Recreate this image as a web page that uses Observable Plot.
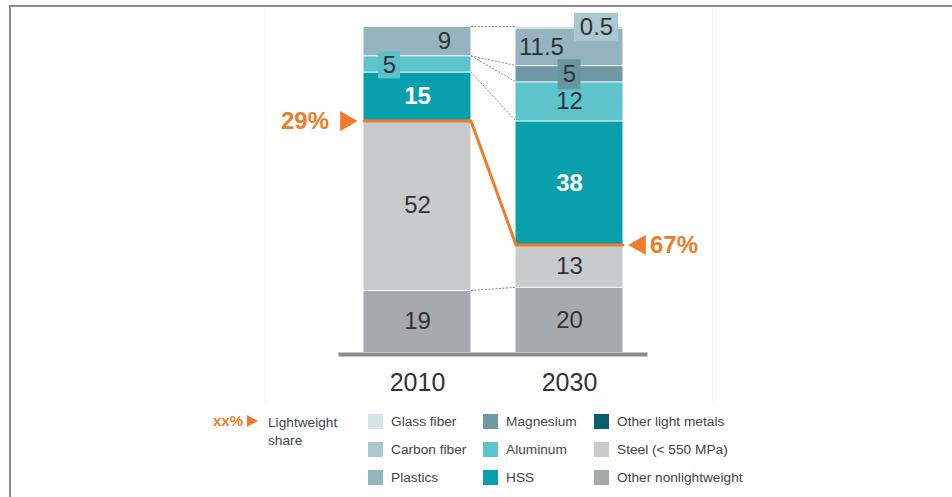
<!DOCTYPE html>
<html><head><meta charset="utf-8">
<script src="https://cdn.jsdelivr.net/npm/d3@7"></script>
<script src="https://cdn.jsdelivr.net/npm/@observablehq/plot@0.6"></script>
<style>
body{margin:0;background:#fff;font-family:"Liberation Sans",Arial,sans-serif;}
#frame{position:relative;width:952px;height:497px;overflow:hidden;background:#fff;}
#border{position:absolute;left:9px;top:5px;width:960px;height:500px;border-top:2px solid #8c8c8c;border-left:2px solid #8c8c8c;box-sizing:border-box;}
#panel{position:absolute;left:264px;top:8px;width:447px;height:394px;border-left:1px solid #f5f5f5;border-right:1px solid #f3f3f3;}
#chart{position:absolute;left:0;top:0;}
.lg{position:absolute;font-size:13.7px;color:#444;line-height:16px;white-space:nowrap;}
.sw{position:absolute;width:15px;height:15px;}
</style></head><body>
<div id="frame"><div id="panel"></div><div id="chart"></div><div id="legend"></div><div id="border"></div></div>
<script>
// ---- data ----
const years = ["2010", "2030"];
const categories = ["Other nonlightweight", "Steel (< 550 MPa)", "HSS", "Aluminum", "Magnesium", "Plastics", "Carbon fiber", "Glass fiber", "Other light metals"];
const isLightweight = [false, false, true, true, true, true, true, true, true];
const values2010 = [19, 52, 15, 5, 0, 9, 0, 0, 0];
const values2030 = [20, 13, 38, 12, 5, 11.5, 0.5, 0, 0];
const colors = ["#a8a9ac", "#c9cacc", "#08a0ac", "#5ec4cb", "#6e99a5", "#94b5c0", "#a9c8cf", "#d3e5e7", "#0b5e6d"];
const legendOrder = ["Glass fiber", "Carbon fiber", "Plastics", "Magnesium", "Aluminum", "HSS", "Other light metals", "Steel (< 550 MPa)", "Other nonlightweight"];

// ---- layout ----
const W = 952, H = 400, mt = 26, mb = 48, ml = 417, mr = 383;
const xPx = (W - ml - mr), yPx = (H - mt - mb) / 100;
const hw = 53.5 / xPx;             // half bar width in x units
const orange = "#f07c2a";
const labelLayout = {
  "2010|Plastics": {dx: 27},
  "2010|Aluminum": {dx: -28, dy: 1.5, box: [22, 27], boxFill: "#5bc0c8"},
  "2030|Plastics": {dx: -28},
  "2030|Carbon fiber": {dx: 27, box: [44, 28], boxFill: "#a9c8cf"},
  "2030|Magnesium": {dy: 1, box: [23, 30], boxFill: "#6995a1"}
};

const series = [values2010, values2030];
const segs = [];
const tops = [];
series.forEach((vals, i) => {
  let c = 0; const t = {};
  vals.forEach((v, k) => {
    const y1 = c; c += v; t[categories[k]] = c;
    if (v > 0) segs.push({year: years[i], xi: i, cat: categories[k], v, y1, y2: c, color: colors[k], light: isLightweight[k]});
  });
  tops.push(t);
});
const shares = series.map(vals => d3.sum(vals.filter((v, k) => isLightweight[k])));
const bounds = shares.map(s => 100 - s);

const labels = segs.map(s => {
  const L = labelLayout[s.year + "|" + s.cat] || {};
  return {...s, x: s.xi + (L.dx || 0) / xPx, y: (s.y1 + s.y2) / 2 - (L.dy || 0) / yPx, L};
});
const boxes = labels.filter(d => d.L.box).map(d => ({
  x1: d.x - d.L.box[0] / 2 / xPx, x2: d.x + d.L.box[0] / 2 / xPx,
  y1: d.y - d.L.box[1] / 2 / yPx, y2: d.y + d.L.box[1] / 2 / yPx, fill: d.L.boxFill
}));

const connectCats = ["Other nonlightweight", "HSS", "Aluminum", "Magnesium", "Carbon fiber"];
const links = connectCats.map(c => ({y1: tops[0][c], y2: tops[1][c]}));
const orangePts = [
  {x: -hw, y: bounds[0]}, {x: hw, y: bounds[0]},
  {x: 1 - hw, y: bounds[1]}, {x: 1 + hw, y: bounds[1]}
];

const plot = Plot.plot({
  width: W, height: H, marginTop: mt, marginBottom: mb, marginLeft: ml, marginRight: mr,
  x: {domain: [0, 1]}, y: {domain: [0, 100], axis: null},
  style: {fontFamily: "'Liberation Sans', Arial, sans-serif", background: "transparent", overflow: "visible"},
  marks: [
    Plot.link(links, {x1: hw, x2: 1 - hw, y1: "y1", y2: "y2", stroke: "#8a8a8a", strokeWidth: 1, strokeDasharray: "2,1.5"}),
    Plot.rect(segs, {x1: d => d.xi - hw, x2: d => d.xi + hw, y1: "y1", y2: "y2", fill: "color", insetTop: 1}),
    Plot.rect(boxes, {x1: "x1", x2: "x2", y1: "y1", y2: "y2", fill: "fill"}),
    Plot.text(labels.filter(d => d.cat !== "HSS"), {x: "x", y: "y", text: d => String(d.v), fill: "#333", fontSize: 24}),
    Plot.text(labels.filter(d => d.cat === "HSS"), {x: "x", y: "y", text: d => String(d.v), fill: "white", fontWeight: "bold", fontSize: 24}),
    Plot.ruleY([0], {x1: -hw - 25 / xPx, x2: 1 + hw + 25 / xPx, stroke: "#8c8c8c", strokeWidth: 4, dy: 2}),
    Plot.line(orangePts, {x: "x", y: "y", stroke: orange, strokeWidth: 3}),
    Plot.text([0], {x: -hw, y: bounds[0], text: () => shares[0] + "%", dx: -35, textAnchor: "end", fill: orange, fontWeight: "bold", fontSize: 24}),
    Plot.dot([0], {x: -hw, y: bounds[0], dx: -18, symbol: "triangle", rotate: 90, r: 7.5, fill: orange, stroke: null}),
    Plot.text([0], {x: 1 + hw, y: bounds[1], text: () => shares[1] + "%", dx: 27, textAnchor: "start", fill: orange, fontWeight: "bold", fontSize: 24}),
    Plot.dot([0], {x: 1 + hw, y: bounds[1], dx: 17, symbol: "triangle", rotate: -90, r: 7.5, fill: orange, stroke: null}),
    Plot.axisX({ticks: [0, 1], tickFormat: i => years[i], tickSize: 0, tickPadding: 21, fontSize: 25, label: null, fill: "#333"})
  ]
});
document.getElementById("chart").appendChild(plot);

// ---- legend ----
const lg = document.getElementById("legend");
const colX = [368, 483, 594], rowY = [422, 450, 478];
function add(html, css, cls) { const e = document.createElement("div"); e.className = cls; e.innerHTML = html; Object.assign(e.style, css); lg.appendChild(e); return e; }
add('xx%', {left: "213px", top: (rowY[0] - 9) + "px", color: orange, fontWeight: "bold", fontSize: "15px"}, "lg");
add('<svg width="11" height="12"><path d="M0,0L11,6L0,12Z" fill="' + orange + '"/></svg>', {left: "247px", top: (rowY[0] - 7) + "px", lineHeight: "0"}, "lg");
add('Lightweight<br>share', {left: "268px", top: (rowY[0] - 8) + "px", lineHeight: "18px"}, "lg");
legendOrder.forEach((name, j) => {
  const col = Math.floor(j / 3), row = j % 3;
  const k = categories.indexOf(name);
  add("", {left: colX[col] + "px", top: (rowY[row] - 8) + "px", background: colors[k]}, "sw");
  add(name, {left: (colX[col] + 23) + "px", top: (rowY[row] - 8) + "px"}, "lg");
});
</script>
</body></html>
